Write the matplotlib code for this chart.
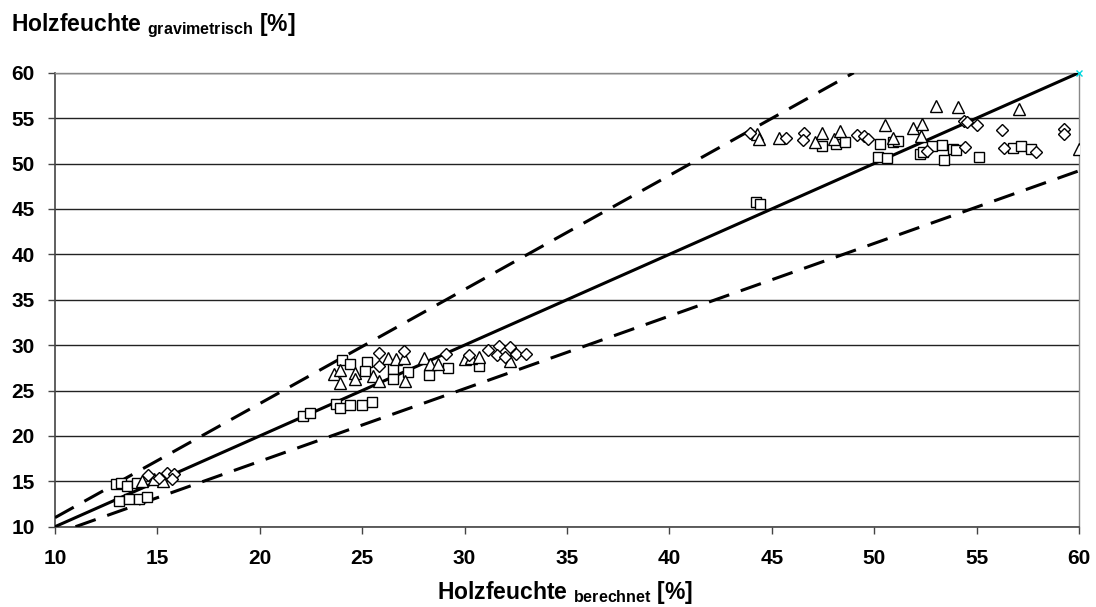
import matplotlib.pyplot as plt

plt.rcParams['font.family'] = ['Liberation Sans', 'DejaVu Sans']
plt.rcParams['font.weight'] = 'bold'
plt.rcParams['mathtext.fontset'] = 'custom'
plt.rcParams['mathtext.rm'] = 'Liberation Sans:bold'
plt.rcParams['mathtext.bf'] = 'Liberation Sans:bold'

# Quadrate
sq_x = [13.0, 13.2, 13.5, 14.0, 13.1, 13.6, 14.1, 14.5,
        22.1, 22.45, 23.7, 23.9, 24.4, 25.0, 25.5, 24.0, 24.4, 25.25, 25.15,
        26.5, 26.5, 27.25, 28.25, 29.2, 30.7,
        44.25, 44.4, 47.45, 48.15, 48.55, 50.3, 50.9, 51.15, 50.2, 50.6,
        52.25, 52.4, 52.8, 53.3, 53.4, 53.85, 54.0, 55.1, 56.8, 57.15, 57.65]
sq_y = [14.7, 14.8, 14.45, 14.8, 12.8, 13.0, 13.0, 13.25,
        22.2, 22.55, 23.55, 23.1, 23.4, 23.45, 23.7, 28.35, 27.9, 28.15, 27.15,
        27.35, 26.3, 27.05, 26.7, 27.5, 27.7,
        45.75, 45.5, 51.9, 52.2, 52.4, 52.1, 52.4, 52.5, 50.7, 50.65,
        51.1, 51.3, 51.9, 52.0, 50.35, 51.65, 51.5, 50.7, 51.75, 51.9, 51.55]

# Dreiecke
tr_x = [14.25, 14.85, 15.25,
        23.6, 23.9, 23.9, 24.65, 24.65, 25.55, 25.8, 26.25, 26.65, 27.05, 27.1,
        28.0, 28.3, 28.7, 30.0, 30.3, 30.7, 32.2,
        44.3, 44.35, 45.35, 47.1, 47.45, 48.05, 48.35, 50.55, 50.9, 51.9,
        52.35, 52.3, 53.0, 54.1, 57.05, 60.0]
tr_y = [15.0, 15.2, 15.0,
        26.8, 25.85, 27.3, 26.95, 26.25, 26.6, 26.05, 28.6, 28.45, 28.6, 26.1,
        28.55, 27.9, 27.9, 28.45, 28.6, 28.7, 28.2,
        53.2, 52.65, 52.85, 52.4, 53.4, 52.75, 53.55, 54.2, 52.85, 53.95,
        54.35, 53.05, 56.35, 56.25, 56.0, 51.6]

# Rauten
di_x = [14.55, 15.1, 15.45, 15.8, 15.7,
        25.8, 25.8, 27.05, 29.1, 30.2, 31.15, 31.7, 32.2, 31.6, 31.95, 32.5, 33.0,
        43.95, 45.7, 46.55, 46.5, 49.15, 49.5, 49.7, 54.4, 54.55, 55.0, 56.25,
        59.25, 59.25, 54.45, 56.35, 57.9, 52.6]
di_y = [15.65, 15.35, 15.9, 15.75, 15.2,
        29.15, 27.7, 29.3, 29.05, 28.9, 29.45, 29.9, 29.8, 28.9, 28.7, 29.05, 29.05,
        53.35, 52.85, 53.35, 52.55, 53.1, 53.05, 52.7, 54.7, 54.6, 54.2, 53.65,
        53.85, 53.3, 51.85, 51.75, 51.25, 51.35]

# Bezugslinien
line_x = [10, 60]
line_y = [10, 60]
upper_x = [10, 49.0]
upper_y = [11, 60]
lower_x = [11, 60]
lower_y = [10, 49.2]

fig = plt.figure(figsize=(10.96, 6.07), dpi=100)
ax = fig.add_axes([0.0502, 0.1323, 0.9343, 0.7479])

ax.grid(axis='y', color='#222222', linewidth=1.0)
ax.set_axisbelow(True)

ax.plot(line_x, line_y, color='black', linewidth=2.2, zorder=3)
ax.plot(upper_x, upper_y, color='black', linewidth=2.2, dashes=(7, 4), zorder=3)
ax.plot(lower_x, lower_y, color='black', linewidth=2.2, dashes=(7, 4), zorder=3)

ax.plot(sq_x, sq_y, 's', markersize=7.5, markerfacecolor='white',
        markeredgecolor='black', markeredgewidth=1.0, zorder=4)
ax.plot(tr_x, tr_y, '^', markersize=8.5, markerfacecolor='white',
        markeredgecolor='black', markeredgewidth=1.0, zorder=4)
ax.plot(di_x, di_y, 'D', markersize=6.5, markerfacecolor='white',
        markeredgecolor='black', markeredgewidth=1.0, zorder=4)
ax.plot([60], [60], 'x', color='#00d8e0', markersize=5, markeredgewidth=1.0,
        zorder=5, clip_on=False)

ax.set_xlim(10, 60)
ax.set_ylim(10, 60)
ax.set_xticks(range(10, 61, 5))
ax.set_yticks(range(10, 61, 5))
ax.tick_params(labelsize=15, direction='out', length=5, width=1, color='#444444')
ax.tick_params(axis='x', pad=11)
ax.tick_params(axis='y', pad=9.5)

for s in ['left', 'bottom']:
    ax.spines[s].set_color('#444444')
    ax.spines[s].set_linewidth(1.2)
for s in ['top', 'right']:
    ax.spines[s].set_color('#888888')
    ax.spines[s].set_linewidth(1.0)

fig.text(0.516, 0.013, r'Holzfeuchte $_{\mathrm{berechnet}}$ [%]', fontsize=16.5,
         fontweight='bold', ha='center', va='baseline')
fig.text(0.010, 0.948, r'Holzfeuchte $_{\mathrm{gravimetrisch}}$ [%]',
         fontsize=16.5, fontweight='bold', ha='left', va='baseline')

fig.savefig('out.png', dpi=100)
